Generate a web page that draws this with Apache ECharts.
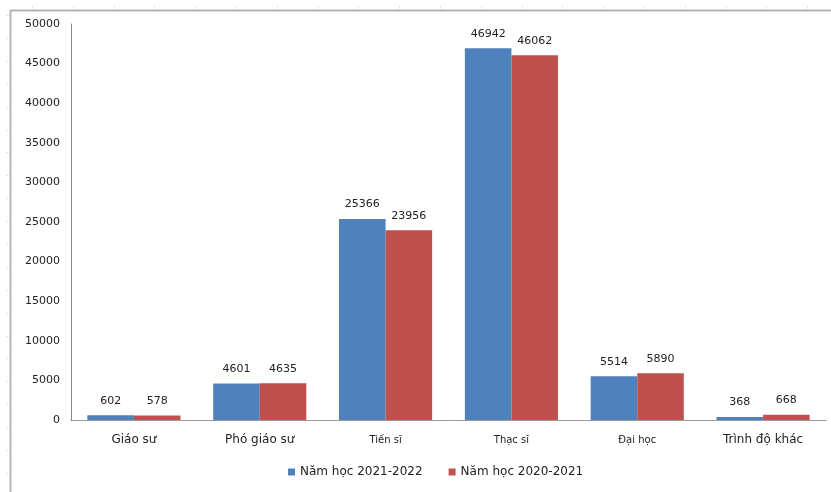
<!DOCTYPE html>
<html>
<head>
<meta charset="utf-8">
<script src="https://cdn.jsdelivr.net/npm/echarts@6/dist/echarts.min.js"></script>
<style>
  html, body { margin: 0; padding: 0; background: #fff; }
  #chart { width: 831px; height: 492px; }
</style>
</head>
<body>
<div id="chart"></div>
<script>
// Staff counts by academic title / degree, two school years
const categories = ['Giáo sư', 'Phó giáo sư', 'Tiến sĩ', 'Thạc sĩ', 'Đại học', 'Trình độ khác'];
const seriesNames = ['Năm học 2021-2022', 'Năm học 2020-2021'];
const values2122 = [602, 4601, 25366, 46942, 5514, 368];
const values2021 = [578, 4635, 23956, 46062, 5890, 668];
const yTicks = [0, 5000, 10000, 15000, 20000, 25000, 30000, 35000, 40000, 45000, 50000];

const FONT = 'DejaVu Sans';
const BLUE = '#4F81BD';
const RED = '#C0504D';

// categories whose axis label is set in the smaller type
const smallCats = new Set(['Tiến sĩ', 'Thạc sĩ', 'Đại học']);

// outer frame and faint ruler marks
const frame = [
  { type: 'line', shape: { x1: 10, y1: 10.5, x2: 831, y2: 10.5 }, style: { stroke: '#b4b4b4', lineWidth: 2 }, silent: true },
  { type: 'line', shape: { x1: 10.5, y1: 10, x2: 10.5, y2: 492 }, style: { stroke: '#b4b4b4', lineWidth: 2 }, silent: true }
];
for (let x = 32; x < 831; x += 40.8) {
  frame.push({ type: 'line', shape: { x1: Math.round(x) + 0.5, y1: 6, x2: Math.round(x) + 0.5, y2: 9 }, style: { stroke: '#e6e6ef', lineWidth: 1 }, silent: true });
}
for (let y = 15; y < 492; y += 22.9) {
  frame.push({ type: 'line', shape: { x1: 6, y1: Math.round(y) + 0.5, x2: 9, y2: Math.round(y) + 0.5 }, style: { stroke: '#e6e6ef', lineWidth: 1 }, silent: true });
}

const valueLabel = {
  show: true,
  position: 'top',
  distance: 9,
  fontFamily: FONT,
  fontSize: 11,
  color: '#222'
};

const option = {
  animation: false,
  backgroundColor: '#fff',
  graphic: frame,
  grid: { left: 71, right: 5, top: 24, bottom: 72, containLabel: false },
  legend: {
    data: seriesNames,
    left: 283,
    bottom: 9,
    itemWidth: 7,
    itemHeight: 7,
    itemGap: 26,
    icon: 'rect',
    textStyle: { fontFamily: FONT, fontSize: 12, color: '#222' }
  },
  xAxis: {
    type: 'category',
    data: categories,
    axisLine: { lineStyle: { color: '#999', width: 1 } },
    axisTick: { show: false },
    axisLabel: {
      margin: 12,
      interval: 0,
      fontFamily: FONT,
      color: '#222',
      formatter: v => smallCats.has(v) ? '{s|' + v + '}' : '{b|' + v + '}',
      rich: {
        b: { fontFamily: FONT, fontSize: 12, lineHeight: 16, color: '#222' },
        s: { fontFamily: FONT, fontSize: 10, lineHeight: 16, color: '#222' }
      }
    }
  },
  yAxis: {
    type: 'value',
    min: yTicks[0],
    max: yTicks[yTicks.length - 1],
    interval: yTicks[1] - yTicks[0],
    axisLine: { show: true, lineStyle: { color: '#888', width: 1 } },
    axisTick: { show: false },
    splitLine: { show: false },
    axisLabel: {
      margin: 11,
      fontFamily: FONT,
      fontSize: 11,
      color: '#222',
      formatter: v => String(v)
    }
  },
  series: [
    {
      name: seriesNames[0],
      type: 'bar',
      data: values2122,
      barGap: '0%',
      barCategoryGap: '26%',
      itemStyle: { color: BLUE },
      label: valueLabel
    },
    {
      name: seriesNames[1],
      type: 'bar',
      data: values2021,
      itemStyle: { color: RED },
      label: valueLabel
    }
  ]
};

const chart = echarts.init(document.getElementById('chart'), null, { renderer: 'canvas' });
chart.setOption(option);
</script>
</body>
</html>
